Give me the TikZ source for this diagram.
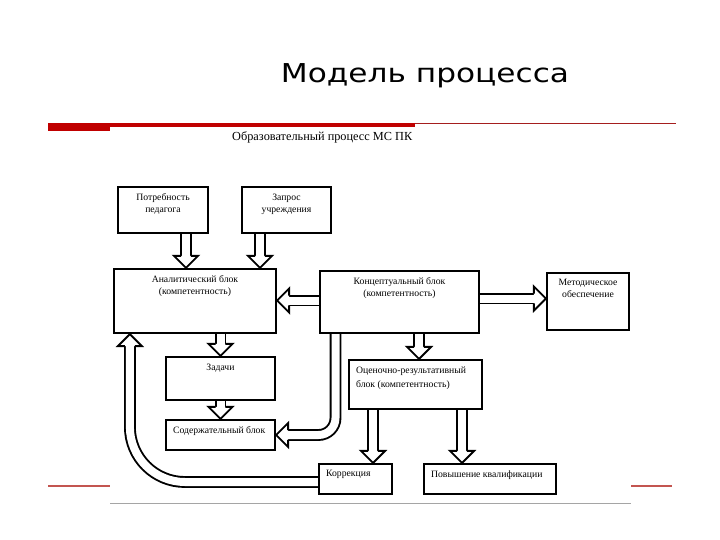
\documentclass[tikz,border=0pt]{standalone}
\usepackage{fontspec}
\setmainfont{Liberation Serif}
\newfontfamily\titlefont{DejaVu Sans}
\usepackage{xcolor}
\usepackage{tikz}
\usetikzlibrary{calc,backgrounds}

\definecolor{slidered}{RGB}{192,0,0}
\definecolor{darkred}{RGB}{165,30,30}
\definecolor{softred}{RGB}{195,85,80}
\definecolor{rulegray}{RGB}{165,165,165}

\tikzset{
  box/.style={draw, line width=2.2pt, inner sep=0pt},
  ctext/.style={anchor=north, align=center, inner sep=0pt, yshift=-7.5pt,
                font=\fontsize{9.7}{12}\selectfont},
  ltext/.style={anchor=north west, align=left, inner sep=0pt, xshift=8pt, yshift=-7.5pt,
                font=\fontsize{9.7}{14}\selectfont},
  shaft/.style={draw, line width=1.9pt, double=white, double distance=8pt},
  headline/.style={draw, line width=1.9pt, fill=white, line join=miter}
}

% open block arrow: #1 = where it comes from, #2 = its tip
\newcommand{\bhead}[2]{%
  \coordinate (hb) at ($(#2)!12pt!(#1)$);
  \draw[headline] ($(hb)!4.95pt!90:(#2)$) -- ($(hb)!12pt!90:(#2)$) -- (#2)
    -- ($(hb)!12pt!-90:(#2)$) -- ($(hb)!4.95pt!-90:(#2)$);}
\newcommand{\barrow}[2]{%
  \draw[shaft] (#1) -- ($(#2)!12pt!(#1)$);
  \bhead{#1}{#2}}

\begin{document}
\begin{tikzpicture}[x=1pt, y=-1pt]
  \useasboundingbox (0,0) rectangle (720,540);

  \node[font=\titlefont\fontsize{26}{30}\selectfont, anchor=base, xscale=1.2] (title) at (425,83) {Модель процесса};

  \fill[slidered] (48,123.5) rectangle (110,131.5);
  \fill[slidered] (110,123.5) rectangle (415,127.5);
  \draw[darkred, line width=1pt] (415,124) -- (676,124);
  \draw[softred, line width=1.5pt] (48,486) -- (110,486);
  \draw[softred, line width=1.5pt] (631,486) -- (672,486);
  \draw[rulegray, line width=1pt] (110,503.5) -- (631,503.5);

  \node[anchor=base west, inner sep=0pt, font=\fontsize{12.3}{14}\selectfont] (sub) at (232,140.5) {Образовательный процесс МС ПК};

  \node[box, minimum width=90, minimum height=46, label={[ctext]north:{Потребность\\педагога}}] (pot) at (163,210) {};
  \node[box, minimum width=89, minimum height=46, label={[ctext]north:{Запрос\\учреждения}}] (zap) at (286.5,210) {};
  \node[box, minimum width=162, minimum height=64, label={[ctext]north:{Аналитический блок\\(компетентность)}}] (anal) at (195,301) {};
  \node[box, minimum width=159, minimum height=62, label={[ctext]north:{Концептуальный блок\\(компетентность)}}] (konc) at (399.5,302) {};
  \node[box, minimum width=82, minimum height=57, label={[ctext]north:{Методическое\\обеспечение}}] (met) at (588,301.5) {};
  \node[box, minimum width=109, minimum height=43, label={[ctext]north:{Задачи}}] (zad) at (220.5,378.5) {};
  \node[box, minimum width=133, minimum height=49, label={[ltext]north west:{Оценочно-результативный\\блок (компетентность)}}] (ocen) at (415.5,384.5) {};
  \node[box, minimum width=109, minimum height=30, label={[ltext]north west:{Содержательный блок}}] (sod) at (220.5,435) {};
  \node[box, minimum width=73, minimum height=30, label={[ltext]north west:{Коррекция}}] (kor) at (355.5,479) {};
  \node[box, minimum width=132, minimum height=30, label={[ltext]north west:{Повышение квалификации}}] (pov) at (490,479) {};

  \coordinate (c1) at ($(pot.south)+(23,0)$);
  \coordinate (c2) at ($(zap.south)+(-26.5,0)$);
  \coordinate (c3) at ($(konc.west)+(0,-1.5)$);
  \coordinate (c4) at ($(konc.east)+(0,-3.5)$);
  \coordinate (c7) at ($(konc.south)+(19.5,0)$);
  \coordinate (c8) at ($(konc.south)+(-64,0)$);
  \coordinate (c9) at ($(ocen.south)+(-42.5,0)$);
  \coordinate (c10) at ($(ocen.south)+(46.5,0)$);
  \coordinate (c11) at ($(anal.south west)+(17,0)$);
  \coordinate (k1) at ($(kor.west)+(0,3)$);

  \begin{scope}[on background layer]
    \barrow{c1}{c1 |- anal.north}
    \barrow{c2}{c2 |- anal.north}
    \barrow{c3}{c3 -| anal.east}
    \barrow{c4}{c4 -| met.west}
    \barrow{zad.north |- anal.south}{zad.north}
    \barrow{zad.south}{sod.north}
    \barrow{c7}{c7 |- ocen.north}
    \barrow{c9}{c9 |- kor.north}
    \barrow{c10}{c10 |- pov.north}
    \draw[shaft, rounded corners=17pt] (c8) |- ($(sod.east)+(12,0)$);
    \bhead{c8 |- sod.east}{sod.east}
    \draw[shaft, rounded corners=55pt] (k1) -| ($(c11)+(0,12)$);
    \bhead{k1 -| c11}{c11}
  \end{scope}
\end{tikzpicture}
\end{document}
